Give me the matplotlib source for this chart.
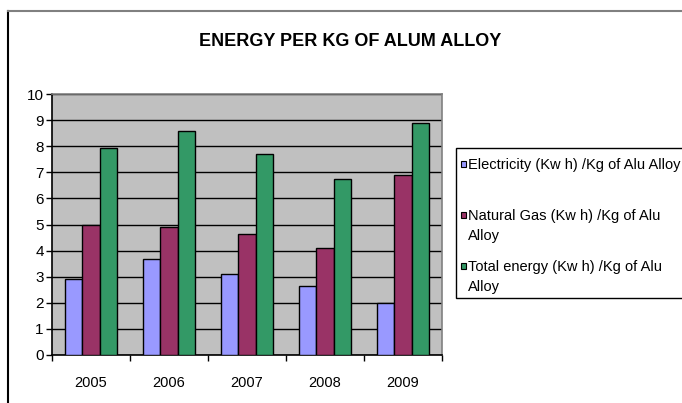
import matplotlib.pyplot as plt
import matplotlib.patches as patches
import numpy as np

years = ['2005', '2006', '2007', '2008', '2009']
electricity = [2.92, 3.68, 3.1, 2.63, 1.99]
natural_gas = [4.98, 4.92, 4.62, 4.09, 6.88]
total_energy = [7.94, 8.58, 7.71, 6.73, 8.87]

series_labels = ['Electricity (Kw h) /Kg of Alu Alloy',
                 'Natural Gas (Kw h) /Kg of Alu\nAlloy',
                 'Total energy (Kw h) /Kg of Alu\nAlloy']
colors = ['#9999FF', '#993366', '#339966']

plt.rcParams.update({'font.family': ['Liberation Sans', 'DejaVu Sans'], 'font.size': 10.5})

W, H = 682, 403
fig = plt.figure(figsize=(W / 100, H / 100), dpi=100)


def fx(px):
    return px / W


def fy(py):
    return 1 - py / H


ax = fig.add_axes([fx(52), fy(355), fx(442) - fx(52), fy(94) - fy(355)])
ax.set_facecolor('#C0C0C0')

x = np.arange(len(years))
bw = 0.222
for i, vals in enumerate([electricity, natural_gas, total_energy]):
    ax.bar(x + (i - 1) * bw, vals, bw, color=colors[i], edgecolor='black',
           linewidth=1, zorder=3)

ax.set_xlim(-0.5, len(years) - 0.5)
ax.set_ylim(0, 10)
ax.set_yticks(range(0, 11))
ax.yaxis.grid(True, color='black', linewidth=1, zorder=0)
ax.set_axisbelow(True)
ax.set_xticks(x)
ax.set_xticklabels(years, fontsize=10.5)
ax.set_xticks(np.arange(-0.5, len(years)), minor=True)
ax.tick_params(axis='x', which='major', length=0, pad=15)
ax.tick_params(axis='x', which='minor', length=4, width=1, direction='out')
ax.tick_params(axis='y', length=4, width=1, direction='out', pad=2, labelsize=11)
ax.spines['left'].set_color('black')
ax.spines['bottom'].set_color('black')
ax.spines['top'].set_color('#808080')
ax.spines['right'].set_color('#808080')
for s in ax.spines.values():
    s.set_linewidth(1.2)

fig.text(fx(350), fy(41), 'ENERGY PER KG OF ALUM ALLOY', ha='center', va='center',
         fontsize=13, fontweight='bold')

# outer chart border
fig.add_artist(plt.Line2D([fx(8), fx(8)], [fy(11), 0], color='black', linewidth=1.5,
                          transform=fig.transFigure))
fig.add_artist(plt.Line2D([fx(8), 1], [fy(11), fy(11)], color='#808080', linewidth=1.5,
                          transform=fig.transFigure))

# legend drawn by hand
fig.add_artist(patches.Rectangle((fx(456), fy(298)), fx(240), fy(148) - fy(298),
                                 transform=fig.transFigure, facecolor='white',
                                 edgecolor='black', linewidth=1))
entry_y = [164, 215, 266]
for label, color, ey in zip(series_labels, colors, entry_y):
    fig.add_artist(patches.Rectangle((fx(461), fy(ey + 3)), fx(5), fy(ey - 3) - fy(ey + 3),
                                     transform=fig.transFigure, facecolor=color,
                                     edgecolor='black', linewidth=0.8))
    fig.text(fx(468), fy(ey - 6), label, ha='left', va='top', fontsize=10.5,
             linespacing=1.55)

fig.savefig('out.png', dpi=100)
